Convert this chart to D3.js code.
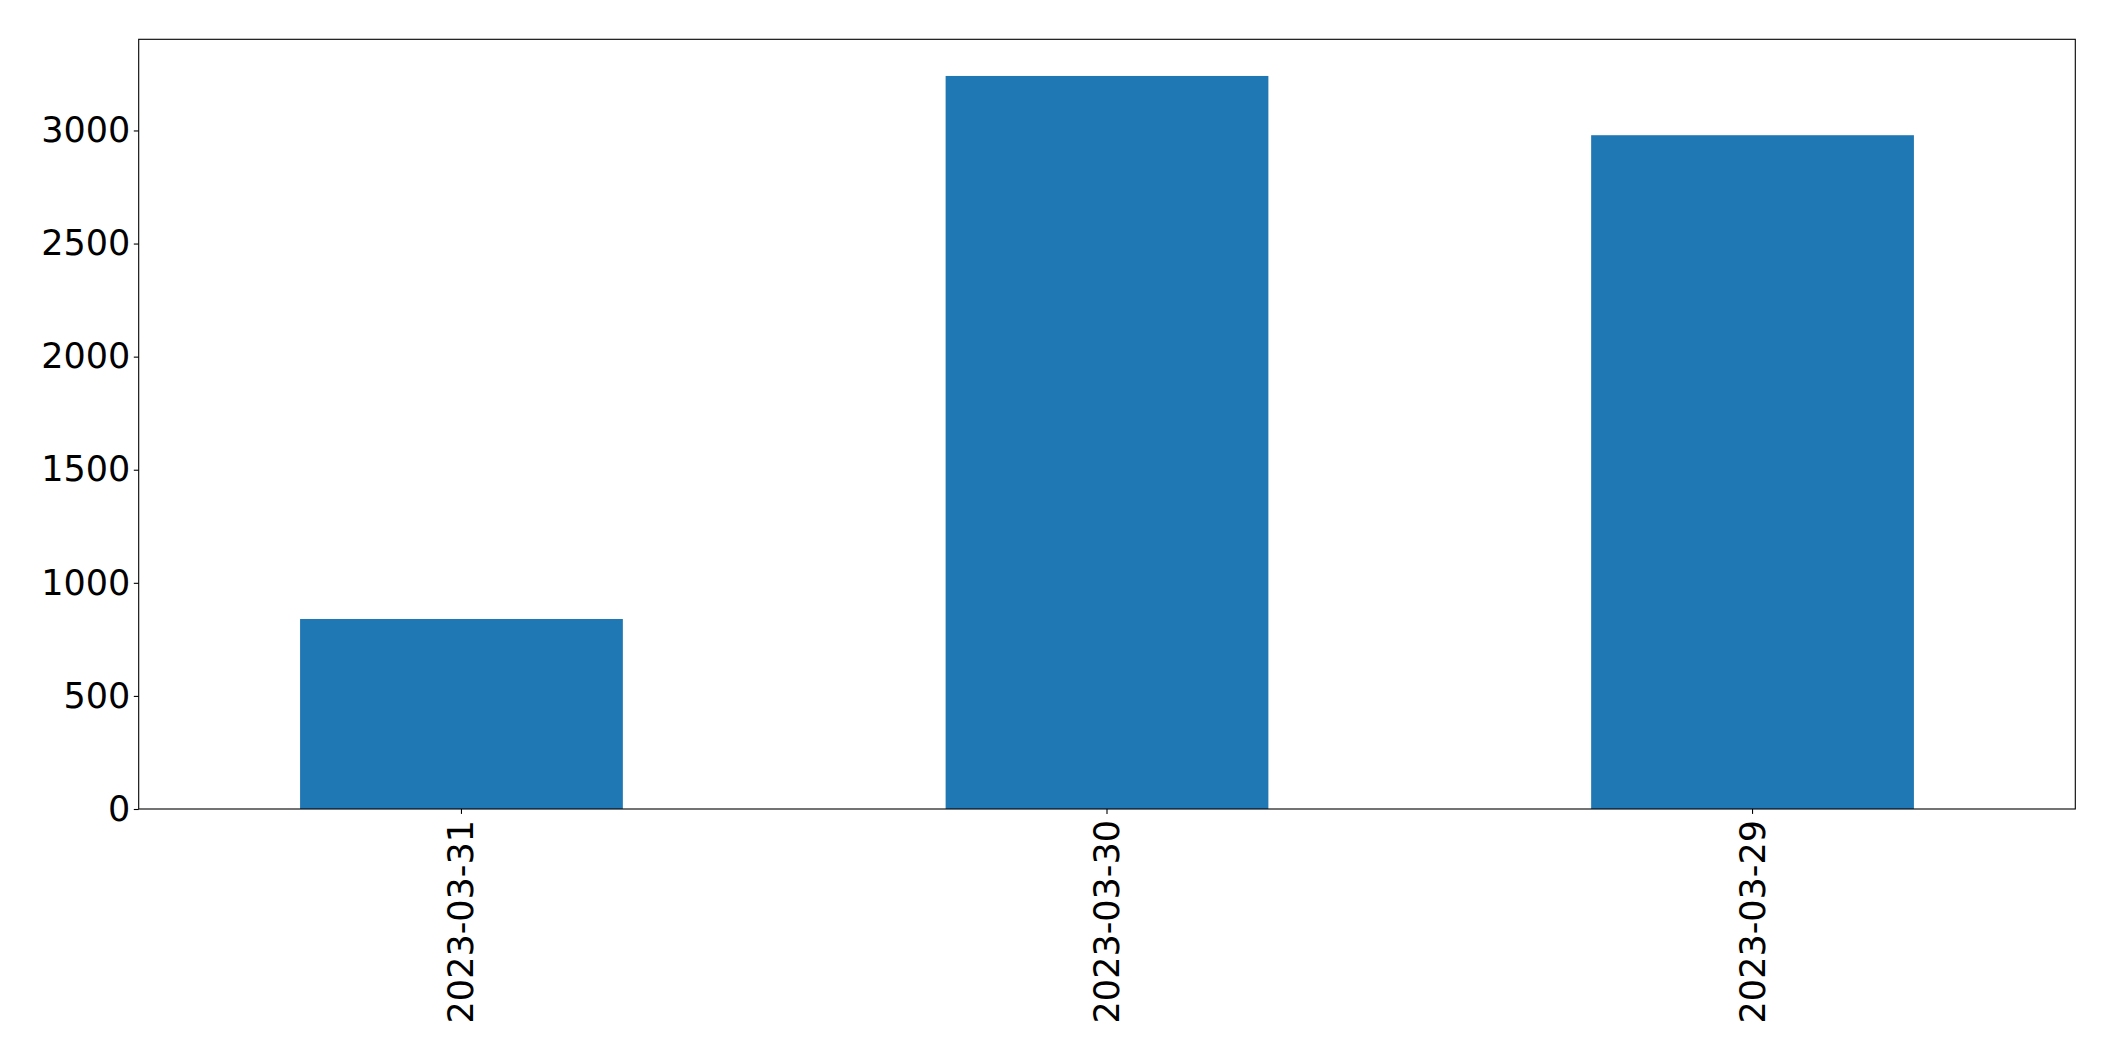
<!DOCTYPE html>
<html>
<head>
<meta charset="utf-8">
<script src="https://cdn.jsdelivr.net/npm/d3@7"></script>
<style>
  html, body { margin: 0; padding: 0; background: #fff; }
  svg { display: block; }
  text { font-family: "DejaVu Sans", sans-serif; fill: #000; }
</style>
</head>
<body>
<svg id="chart" width="2115" height="1061"></svg>
<script>
const categories = ["2023-03-31", "2023-03-30", "2023-03-29"];
const values = [840, 3241, 2979];
const yTicks = [0, 500, 1000, 1500, 2000, 2500, 3000];

const W = 2115, H = 1061;
const margin = { left: 138.7, top: 39.3, right: W - 2075.3, bottom: H - 809 };
const iw = W - margin.left - margin.right;
const ih = H - margin.top - margin.bottom;
const fontSize = 35;

const svg = d3.select("#chart");
const g = svg.append("g").attr("transform", `translate(${margin.left},${margin.top})`);

const x = d3.scaleBand().domain(categories).range([0, iw]).paddingInner(0.5).paddingOuter(0.25);
const yMax = d3.max(values) * 1.05;
const y = d3.scaleLinear().domain([0, yMax]).range([ih, 0]);

g.selectAll("rect.bar").data(values).join("rect")
  .attr("class", "bar")
  .attr("x", (d, i) => x(categories[i]))
  .attr("y", d => y(d))
  .attr("width", x.bandwidth())
  .attr("height", d => y(0) - y(d))
  .attr("fill", "#1f77b4");

// Y axis
const yAxis = g.append("g").call(d3.axisLeft(y).tickValues(yTicks).tickFormat(d3.format("d")).tickSize(4.9).tickPadding(3.5));
yAxis.select(".domain").remove();
yAxis.selectAll("line").attr("stroke", "#000").attr("stroke-width", 1.1);
yAxis.selectAll("text").attr("font-size", fontSize).attr("font-family", "DejaVu Sans");

// X axis
const xAxis = g.append("g").attr("transform", `translate(0,${ih})`)
  .call(d3.axisBottom(x).tickSize(4.9).tickPadding(4.9));
xAxis.select(".domain").remove();
xAxis.selectAll("line").attr("stroke", "#000").attr("stroke-width", 1.1);
xAxis.selectAll("text")
  .attr("font-size", fontSize)
  .attr("font-family", "DejaVu Sans")
  .attr("text-anchor", "end")
  .attr("dy", null)
  .attr("y", null)
  .attr("dominant-baseline", "central")
  .attr("transform", "translate(0,11) rotate(-90)");

// Frame
g.append("rect")
  .attr("x", 0).attr("y", 0).attr("width", iw).attr("height", ih)
  .attr("fill", "none").attr("stroke", "#000").attr("stroke-width", 1.1);
</script>
</body>
</html>
